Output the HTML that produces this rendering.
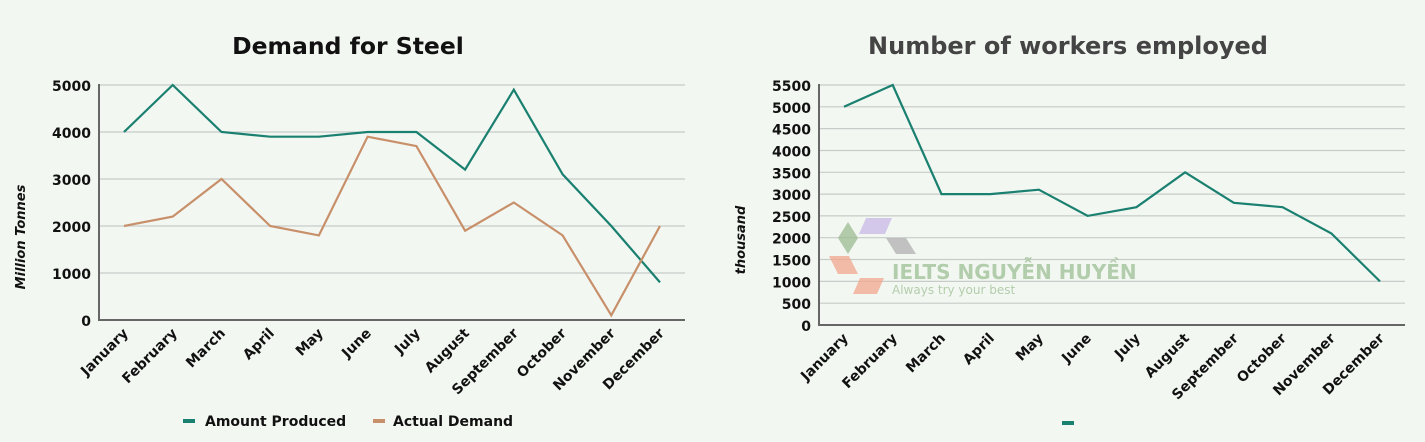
<!DOCTYPE html>
<html><head><meta charset="utf-8"><style>
html,body{margin:0;padding:0;background:#f3f7f2;}
svg{display:block;font-family:"DejaVu Sans","Liberation Sans",sans-serif;}
.t{font-weight:bold;font-size:14px;fill:#111;}
.g{stroke:#c8ccc8;stroke-width:1.2;}
</style></head><body>
<svg width="1425" height="442" viewBox="0 0 1425 442" xmlns="http://www.w3.org/2000/svg">
<rect width="1425" height="442" fill="#f3f7f2"/>
<text x="348" y="54" text-anchor="middle" font-size="23.5" font-weight="bold" fill="#111">Demand for Steel</text>
<text x="1068" y="54" text-anchor="middle" font-size="24" font-weight="bold" fill="#444">Number of workers employed</text>

<!-- Left chart -->
<g class="g">
<line x1="99" y1="85" x2="685" y2="85"/><line x1="99" y1="132" x2="685" y2="132"/>
<line x1="99" y1="179" x2="685" y2="179"/><line x1="99" y1="226" x2="685" y2="226"/>
<line x1="99" y1="273" x2="685" y2="273"/>
</g>
<path d="M99 84V320H685" fill="none" stroke="#666" stroke-width="2"/>
<g class="t" text-anchor="end">
<text x="91" y="91">5000</text><text x="91" y="138">4000</text><text x="91" y="185">3000</text>
<text x="91" y="232">2000</text><text x="91" y="279">1000</text><text x="91" y="326">0</text>
</g>
<text transform="translate(25,237) rotate(-90)" text-anchor="middle" font-size="13" font-weight="bold" font-style="italic" fill="#111">Million Tonnes</text>
<polyline fill="none" stroke="#1a8070" stroke-width="2.2" points="124,132 172.7,85 221.5,132 270.2,136.7 318.9,136.7 367.6,132 416.4,132 465.1,169.6 513.8,89.7 562.6,174.3 611.3,226 660,282.4"/>
<polyline fill="none" stroke="#c8906a" stroke-width="2.2" points="124,226 172.7,216.6 221.5,179 270.2,226 318.9,235.4 367.6,136.7 416.4,146.1 465.1,230.7 513.8,202.5 562.6,235.4 611.3,315.3 660,226"/>
<g class="t" text-anchor="end">
<text transform="translate(129,334) rotate(-45)">January</text>
<text transform="translate(178,334) rotate(-45)">February</text>
<text transform="translate(226,334) rotate(-45)">March</text>
<text transform="translate(275,334) rotate(-45)">April</text>
<text transform="translate(324,334) rotate(-45)">May</text>
<text transform="translate(372,334) rotate(-45)">June</text>
<text transform="translate(421,334) rotate(-45)">July</text>
<text transform="translate(470,334) rotate(-45)">August</text>
<text transform="translate(519,334) rotate(-45)">September</text>
<text transform="translate(567,334) rotate(-45)">October</text>
<text transform="translate(616,334) rotate(-45)">November</text>
<text transform="translate(665,334) rotate(-45)">December</text>
</g>
<rect x="183" y="419" width="12" height="4" fill="#1a8070"/>
<text x="205" y="426" class="t">Amount Produced</text>
<rect x="373" y="419" width="12" height="4" fill="#c8906a"/>
<text x="393" y="426" class="t">Actual Demand</text>

<!-- Right chart -->
<g class="g">
<line x1="819" y1="85" x2="1405" y2="85"/><line x1="819" y1="106.8" x2="1405" y2="106.8"/>
<line x1="819" y1="128.6" x2="1405" y2="128.6"/><line x1="819" y1="150.5" x2="1405" y2="150.5"/>
<line x1="819" y1="172.3" x2="1405" y2="172.3"/><line x1="819" y1="194.1" x2="1405" y2="194.1"/>
<line x1="819" y1="215.9" x2="1405" y2="215.9"/><line x1="819" y1="237.7" x2="1405" y2="237.7"/>
<line x1="819" y1="259.5" x2="1405" y2="259.5"/><line x1="819" y1="281.4" x2="1405" y2="281.4"/>
<line x1="819" y1="303.2" x2="1405" y2="303.2"/>
</g>
<path d="M819 84V325H1405" fill="none" stroke="#666" stroke-width="2"/>
<g class="t" text-anchor="end">
<text x="811" y="91">5500</text><text x="811" y="113">5000</text><text x="811" y="134.6">4500</text>
<text x="811" y="156.5">4000</text><text x="811" y="178.3">3500</text><text x="811" y="200.1">3000</text>
<text x="811" y="221.9">2500</text><text x="811" y="243.7">2000</text><text x="811" y="265.5">1500</text>
<text x="811" y="287.4">1000</text><text x="811" y="309.2">500</text><text x="811" y="331">0</text>
</g>
<text transform="translate(745,240) rotate(-90)" text-anchor="middle" font-size="13" font-weight="bold" font-style="italic" fill="#111">thousand</text>
<!-- watermark -->
<g opacity="0.75">
<polygon points="848,222 858,238 848,254 838,238" fill="#9bbb92"/>
<polygon points="866,218 892,218 885,234 859,234" fill="#c9b9e6"/>
<polygon points="886,238 906,238 916,254 896,254" fill="#b0b0b0"/>
<polygon points="829,256 849,256 858,274 838,274" fill="#f2a88e"/>
<polygon points="860,278 884,278 877,294 853,294" fill="#f2a88e"/>
<text x="892" y="279" font-size="20" font-weight="bold" fill="#9dbf94">IELTS NGUYỄN HUYỀN</text>
<text x="892" y="294" font-size="12" fill="#9dbf94">Always try your best</text>
</g>
<polyline fill="none" stroke="#1a8070" stroke-width="2.2" points="844,106.8 892.7,85 941.5,194.1 990.2,194.1 1038.9,189.7 1087.6,215.9 1136.4,207.2 1185.1,172.3 1233.8,202.8 1282.6,207.2 1331.3,233.4 1380,281.4"/>
<g class="t" text-anchor="end">
<text transform="translate(849,339) rotate(-45)">January</text>
<text transform="translate(898,339) rotate(-45)">February</text>
<text transform="translate(946,339) rotate(-45)">March</text>
<text transform="translate(995,339) rotate(-45)">April</text>
<text transform="translate(1044,339) rotate(-45)">May</text>
<text transform="translate(1092,339) rotate(-45)">June</text>
<text transform="translate(1141,339) rotate(-45)">July</text>
<text transform="translate(1190,339) rotate(-45)">August</text>
<text transform="translate(1239,339) rotate(-45)">September</text>
<text transform="translate(1287,339) rotate(-45)">October</text>
<text transform="translate(1336,339) rotate(-45)">November</text>
<text transform="translate(1385,339) rotate(-45)">December</text>
</g>
<rect x="1062" y="421" width="12" height="4" fill="#1a8070"/>
</svg>
</body></html>
